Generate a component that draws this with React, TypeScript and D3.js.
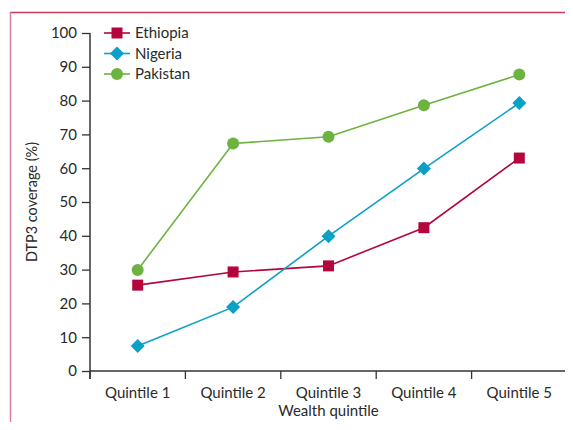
import { useEffect, useRef } from "react";
import * as d3 from "d3";

const quintiles = ["Quintile 1", "Quintile 2", "Quintile 3", "Quintile 4", "Quintile 5"];
const ethiopia = [25.4, 29.3, 31.1, 42.4, 63.0];
const nigeria = [7.4, 18.9, 39.9, 59.9, 79.3];
const pakistan = [29.9, 67.3, 69.3, 78.6, 87.7];
const yTicks = [0, 10, 20, 30, 40, 50, 60, 70, 80, 90, 100];

const series = [
    { name: "Ethiopia", values: ethiopia, color: "#b4053c", shape: "square" },
    { name: "Nigeria", values: nigeria, color: "#0aa0c8", shape: "diamond" },
    { name: "Pakistan", values: pakistan, color: "#6cb33f", shape: "circle" },
];

const FONT = "Lato, 'Open Sans', sans-serif";
const TEXT = "#2a2a2a";

export default function App() {
    const ref = useRef<SVGSVGElement | null>(null);

    useEffect(() => {
        if (!ref.current) return;
        const svg = d3.select(ref.current);
        svg.selectAll("*").remove();

        const left = 90, right = 567, top = 33, bottom = 371;

        const x = d3.scaleBand().domain(quintiles).range([left, right]);
        const y = d3.scaleLinear().domain([0, 100]).range([bottom, top]);

        // frame
        svg.append("line").attr("x1", 10).attr("x2", 573).attr("y1", 12.5).attr("y2", 12.5)
            .attr("stroke", "#cc3a60").attr("stroke-width", 1.5);
        svg.append("line").attr("x1", 10.5).attr("x2", 10.5).attr("y1", 12).attr("y2", 430)
            .attr("stroke", "#e07c98").attr("stroke-width", 1.5);

        const axisColor = "#333";

        // y axis
        const yg = svg.append("g").attr("transform", `translate(${left},0)`)
            .call(d3.axisLeft(y).tickValues(yTicks).tickSize(8).tickPadding(5));
        yg.select(".domain").remove();
        yg.selectAll("line").attr("stroke", axisColor).attr("stroke-width", 1.3);
        yg.selectAll("text").attr("font-family", FONT).attr("font-size", 15).attr("fill", TEXT);
        svg.append("line").attr("x1", left).attr("x2", left).attr("y1", top).attr("y2", bottom + 8)
            .attr("stroke", axisColor).attr("stroke-width", 1.5);

        // x axis
        svg.append("line").attr("x1", left).attr("x2", right).attr("y1", bottom).attr("y2", bottom)
            .attr("stroke", axisColor).attr("stroke-width", 1.5);
        const bounds = quintiles.map(q => x(q) as number).concat([right]);
        svg.selectAll(".xt").data(bounds).enter().append("line")
            .attr("x1", d => d).attr("x2", d => d).attr("y1", bottom).attr("y2", bottom + 8)
            .attr("stroke", axisColor).attr("stroke-width", 1.3);
        svg.selectAll(".xl").data(quintiles).enter().append("text")
            .attr("x", d => (x(d) as number) + x.bandwidth() / 2).attr("y", bottom + 27)
            .attr("text-anchor", "middle").attr("font-family", FONT).attr("font-size", 15)
            .attr("fill", TEXT).text(d => d);

        svg.append("text").attr("x", (left + right) / 2).attr("y", 416).attr("text-anchor", "middle")
            .attr("font-family", FONT).attr("font-size", 15).attr("fill", TEXT).text("Wealth quintile");
        svg.append("text").attr("transform", `translate(37,${(top + bottom) / 2}) rotate(-90)`)
            .attr("text-anchor", "middle").attr("font-family", FONT).attr("font-size", 14.5)
            .attr("fill", TEXT).text("DTP3 coverage (%)");

        const cx = (i: number) => (x(quintiles[i]) as number) + x.bandwidth() / 2;

        const drawMarker = (g: any, shape: string, px: number, py: number, color: string) => {
            if (shape === "square") {
                g.append("rect").attr("x", px - 5.5).attr("y", py - 5.5).attr("width", 11).attr("height", 11).attr("fill", color);
            } else if (shape === "diamond") {
                g.append("path").attr("d", `M${px},${py - 7}L${px + 7},${py}L${px},${py + 7}L${px - 7},${py}Z`).attr("fill", color);
            } else {
                g.append("circle").attr("cx", px).attr("cy", py).attr("r", 6).attr("fill", color);
            }
        };

        const line = d3.line<number>().x((_, i) => cx(i)).y(d => y(d));

        series.forEach(s => {
            const g = svg.append("g");
            g.append("path").attr("d", line(s.values)).attr("fill", "none")
                .attr("stroke", s.color).attr("stroke-width", 1.6);
            s.values.forEach((v, i) => drawMarker(g, s.shape, cx(i), y(v), s.color));
        });

        // legend
        series.forEach((s, i) => {
            const ly = 33 + i * 20.5;
            const g = svg.append("g");
            g.append("line").attr("x1", 104).attr("x2", 130).attr("y1", ly).attr("y2", ly)
                .attr("stroke", s.color).attr("stroke-width", 1.6);
            drawMarker(g, s.shape, 117, ly, s.color);
            g.append("text").attr("x", 135).attr("y", ly + 5).attr("font-family", FONT)
                .attr("font-size", 15).attr("fill", TEXT).text(s.name);
        });
    }, []);

    return <svg ref={ref} width={573} height={430} style={{ display: "block", margin: "-8px" }} />;
}
